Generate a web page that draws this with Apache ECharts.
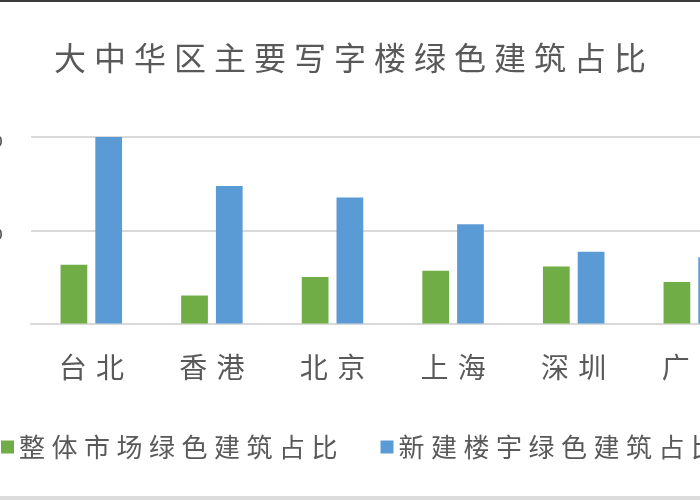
<!DOCTYPE html>
<html lang="zh-cmn-Hans">
<head>
    <meta charset="UTF-8">
    <title>大中华区主要写字楼绿色建筑占比</title>
    <script src="https://cdn.jsdelivr.net/npm/echarts@6/dist/echarts.min.js"></script>
    <style>
        html, body {margin: 0; padding: 0; background: #fff;}
        #chart {width: 700px; height: 500px;}
    </style>
</head>
<body>
<div id="chart"></div>
<script type="text/javascript">
    // 城市
    var cities = ['台北', '香港', '北京', '上海', '深圳', '广州'];
    // 整体市场绿色建筑占比 (%)
    var overallShare = [12.6, 6.0, 10.0, 11.3, 12.2, 8.9];
    // 新建楼宇绿色建筑占比 (%)
    var newBuildShare = [40.0, 29.5, 27.0, 21.3, 15.4, 14.2];
    var seriesNames = ['整体市场绿色建筑占比', '新建楼宇绿色建筑占比'];
    var titleText = '大中华区主要写字楼绿色建筑占比';

    var font = '"Noto Sans CJK SC", sans-serif';
    var textColor = '#595959';

    // 字间距:在字与字之间插入窄空格
    function spaced(s, sp) {
        return s.split('').join(sp);
    }

    var chart = echarts.init(document.getElementById('chart'));
    var option = {
        backgroundColor: '#fff',
        title: {
            text: spaced(titleText, '\u2005'),
            left: 'center',
            top: 37,
            textStyle: {
                fontFamily: font,
                fontSize: 32,
                fontWeight: 'normal',
                color: textColor
            }
        },
        legend: {
            data: seriesNames,
            left: -4,
            top: 429,
            width: 1200,
            icon: 'rect',
            itemWidth: 13,
            itemHeight: 13,
            itemGap: 43,
            formatter: function (name) {
                return spaced(name, '\u2005');
            },
            textStyle: {
                fontFamily: font,
                fontSize: 26,
                color: textColor
            }
        },
        grid: {
            left: 31,
            right: -54.6,
            top: 137,
            bottom: 176.5,
            containLabel: false,
            outerBoundsMode: 'none'
        },
        xAxis: {
            type: 'category',
            data: cities,
            axisTick: {show: false},
            axisLine: {lineStyle: {color: '#d9d9d9', width: 2}},
            axisLabel: {
                margin: 30,
                fontFamily: font,
                fontSize: 28,
                color: textColor,
                formatter: function (v) {
                    return spaced(v, '\u2004');
                }
            }
        },
        yAxis: {
            type: 'value',
            min: 0,
            max: 40,
            interval: 20,
            axisLine: {show: false},
            axisTick: {show: false},
            splitLine: {lineStyle: {color: '#d9d9d9', width: 2}},
            axisLabel: {
                margin: 28,
                showMinLabel: false,
                formatter: '{value}%',
                fontFamily: font,
                fontSize: 25,
                color: textColor
            }
        },
        series: [
            {
                name: seriesNames[0],
                type: 'bar',
                data: overallShare,
                barGap: '30%',
                barCategoryGap: '49%',
                itemStyle: {color: '#70ad47'}
            },
            {
                name: seriesNames[1],
                type: 'bar',
                data: newBuildShare,
                itemStyle: {color: '#5b9bd5'}
            }
        ],
        graphic: [
            {type: 'rect', left: 0, top: 0, shape: {width: 700, height: 2}, style: {fill: '#3a3a3a'}},
            {type: 'rect', left: 0, top: 496, shape: {width: 700, height: 4}, style: {fill: '#dcdcdc'}}
        ]
    };
    chart.setOption(option);
</script>
</body>
</html>
